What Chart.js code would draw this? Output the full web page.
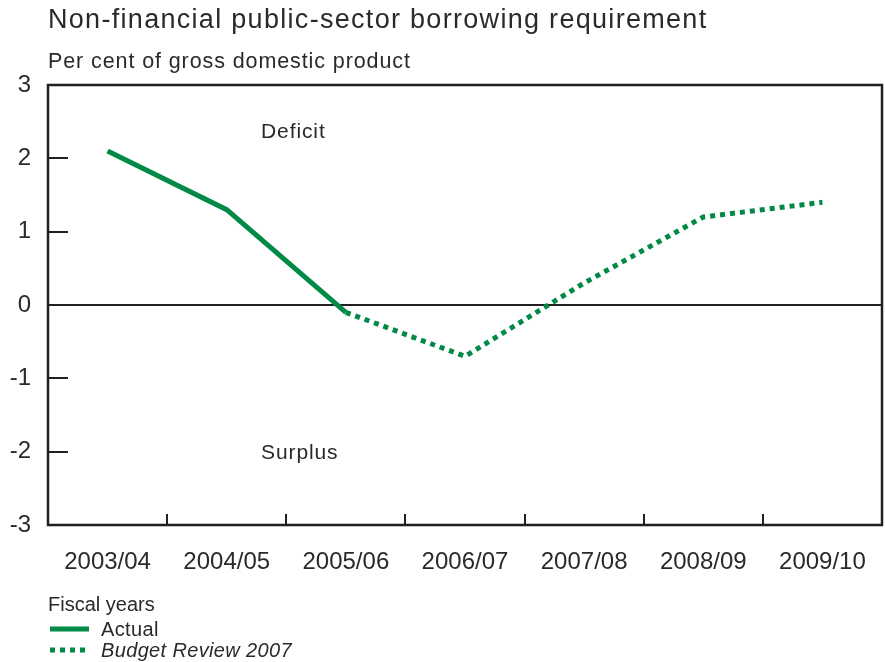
<!DOCTYPE html>
<html>
<head>
<meta charset="utf-8">
<script src="https://cdn.jsdelivr.net/npm/chart.js@4"></script>
<style>
  html, body { margin: 0; padding: 0; background: #fff; }
  #wrap { width: 885px; height: 662px; position: relative; }
</style>
</head>
<body>
<div id="wrap"><canvas id="chart" width="885" height="662"></canvas></div>
<script>
// Fiscal years and borrowing requirement (% of GDP)
const categories = ['2003/04', '2004/05', '2005/06', '2006/07', '2007/08', '2008/09', '2009/10'];
const actual = [2.1, 1.3, -0.1, null, null, null, null];
const budgetReview = [null, null, -0.1, -0.7, 0.3, 1.2, 1.4];
const yMin = -3;
const yMax = 3;

const green = '#008a45';
const ink = '#2a2a2a';
const font = '"Liberation Sans", Arial, sans-serif';

function text(ctx, str, x, y, size, spacing, style) {
  ctx.font = (style ? style + ' ' : '') + size + 'px ' + font;
  ctx.letterSpacing = spacing + 'px';
  ctx.fillText(str, x, y);
  ctx.letterSpacing = '0px';
}

// frame, zero line, inner ticks, titles, notes and legend
const decorations = {
  id: 'decorations',
  beforeDatasetsDraw(chart) {
    const { ctx, chartArea: a, scales: { x, y } } = chart;
    ctx.save();
    ctx.strokeStyle = '#231f20';

    // zero line
    ctx.lineWidth = 2;
    const y0 = Math.round(y.getPixelForValue(0));
    ctx.beginPath();
    ctx.moveTo(a.left, y0);
    ctx.lineTo(a.right, y0);
    ctx.stroke();

    // y ticks pointing inward
    y.ticks.forEach(t => {
      if (t.value === yMin || t.value === yMax || t.value === 0) return;
      const py = Math.round(y.getPixelForValue(t.value));
      ctx.beginPath();
      ctx.moveTo(a.left, py);
      ctx.lineTo(a.left + 20, py);
      ctx.stroke();
    });

    // x ticks between categories
    for (let i = 1; i < categories.length; i++) {
      const px = Math.round((x.getPixelForValue(i - 1) + x.getPixelForValue(i)) / 2);
      ctx.beginPath();
      ctx.moveTo(px, a.bottom);
      ctx.lineTo(px, a.bottom - 11);
      ctx.stroke();
    }

    // frame
    ctx.lineWidth = 2.5;
    ctx.strokeRect(a.left, a.top, a.right - a.left, a.bottom - a.top);
    ctx.restore();
  },
  afterDraw(chart) {
    const { ctx, data } = chart;
    ctx.save();
    ctx.fillStyle = ink;
    ctx.textBaseline = 'alphabetic';
    ctx.textAlign = 'left';

    text(ctx, 'Non-financial public-sector borrowing requirement', 48, 28, 27, 1.3);
    text(ctx, 'Per cent of gross domestic product', 48, 68, 21.5, 0.9);

    text(ctx, 'Deficit', 261, 138, 21, 0.9);
    text(ctx, 'Surplus', 261, 459, 21, 0.9);

    // legend
    text(ctx, 'Fiscal years', 48, 611, 20, 0);
    const rows = [636, 657];
    data.datasets.forEach((ds, i) => {
      const ly = rows[i] - 7;
      ctx.strokeStyle = ds.borderColor;
      ctx.lineWidth = ds.borderWidth;
      ctx.setLineDash(ds.borderDash || []);
      ctx.lineCap = 'butt';
      ctx.beginPath();
      ctx.moveTo(50, ly);
      ctx.lineTo(89, ly);
      ctx.stroke();
      ctx.setLineDash([]);
      text(ctx, ds.label, 101, rows[i], 20, 0.35, i === 1 ? 'italic' : '');
    });
    ctx.restore();
  }
};

new Chart(document.getElementById('chart'), {
  type: 'line',
  data: {
    labels: categories,
    datasets: [
      {
        label: 'Actual',
        data: actual,
        borderColor: green,
        borderWidth: 5,
        pointRadius: 0,
        tension: 0,
        spanGaps: false
      },
      {
        label: 'Budget Review 2007',
        data: budgetReview,
        borderColor: green,
        borderWidth: 5,
        borderDash: [5, 5],
        borderCapStyle: 'butt',
        pointRadius: 0,
        tension: 0,
        spanGaps: false
      }
    ]
  },
  options: {
    responsive: false,
    animation: false,
    devicePixelRatio: 1,
    layout: { padding: { top: 85, right: 3, bottom: 0, left: 0 } },
    plugins: {
      legend: { display: false },
      title: { display: false },
      tooltip: { enabled: false }
    },
    scales: {
      x: {
        offset: true,
        grid: { display: false, drawTicks: false },
        border: { display: false },
        ticks: { color: ink, font: { family: font, size: 24 }, padding: 23, maxRotation: 0 },
        afterFit(scale) {
          scale.height = 137;
          scale.paddingLeft = 0;
          scale.paddingRight = 0;
        }
      },
      y: {
        min: yMin,
        max: yMax,
        grid: { display: false, drawTicks: false },
        border: { display: false },
        ticks: { stepSize: 1, color: ink, font: { family: font, size: 24 }, padding: 17 },
        afterFit(scale) {
          scale.width = 48;
          scale.paddingTop = 0;
          scale.paddingBottom = 0;
        }
      }
    }
  },
  plugins: [decorations]
});
</script>
</body>
</html>
